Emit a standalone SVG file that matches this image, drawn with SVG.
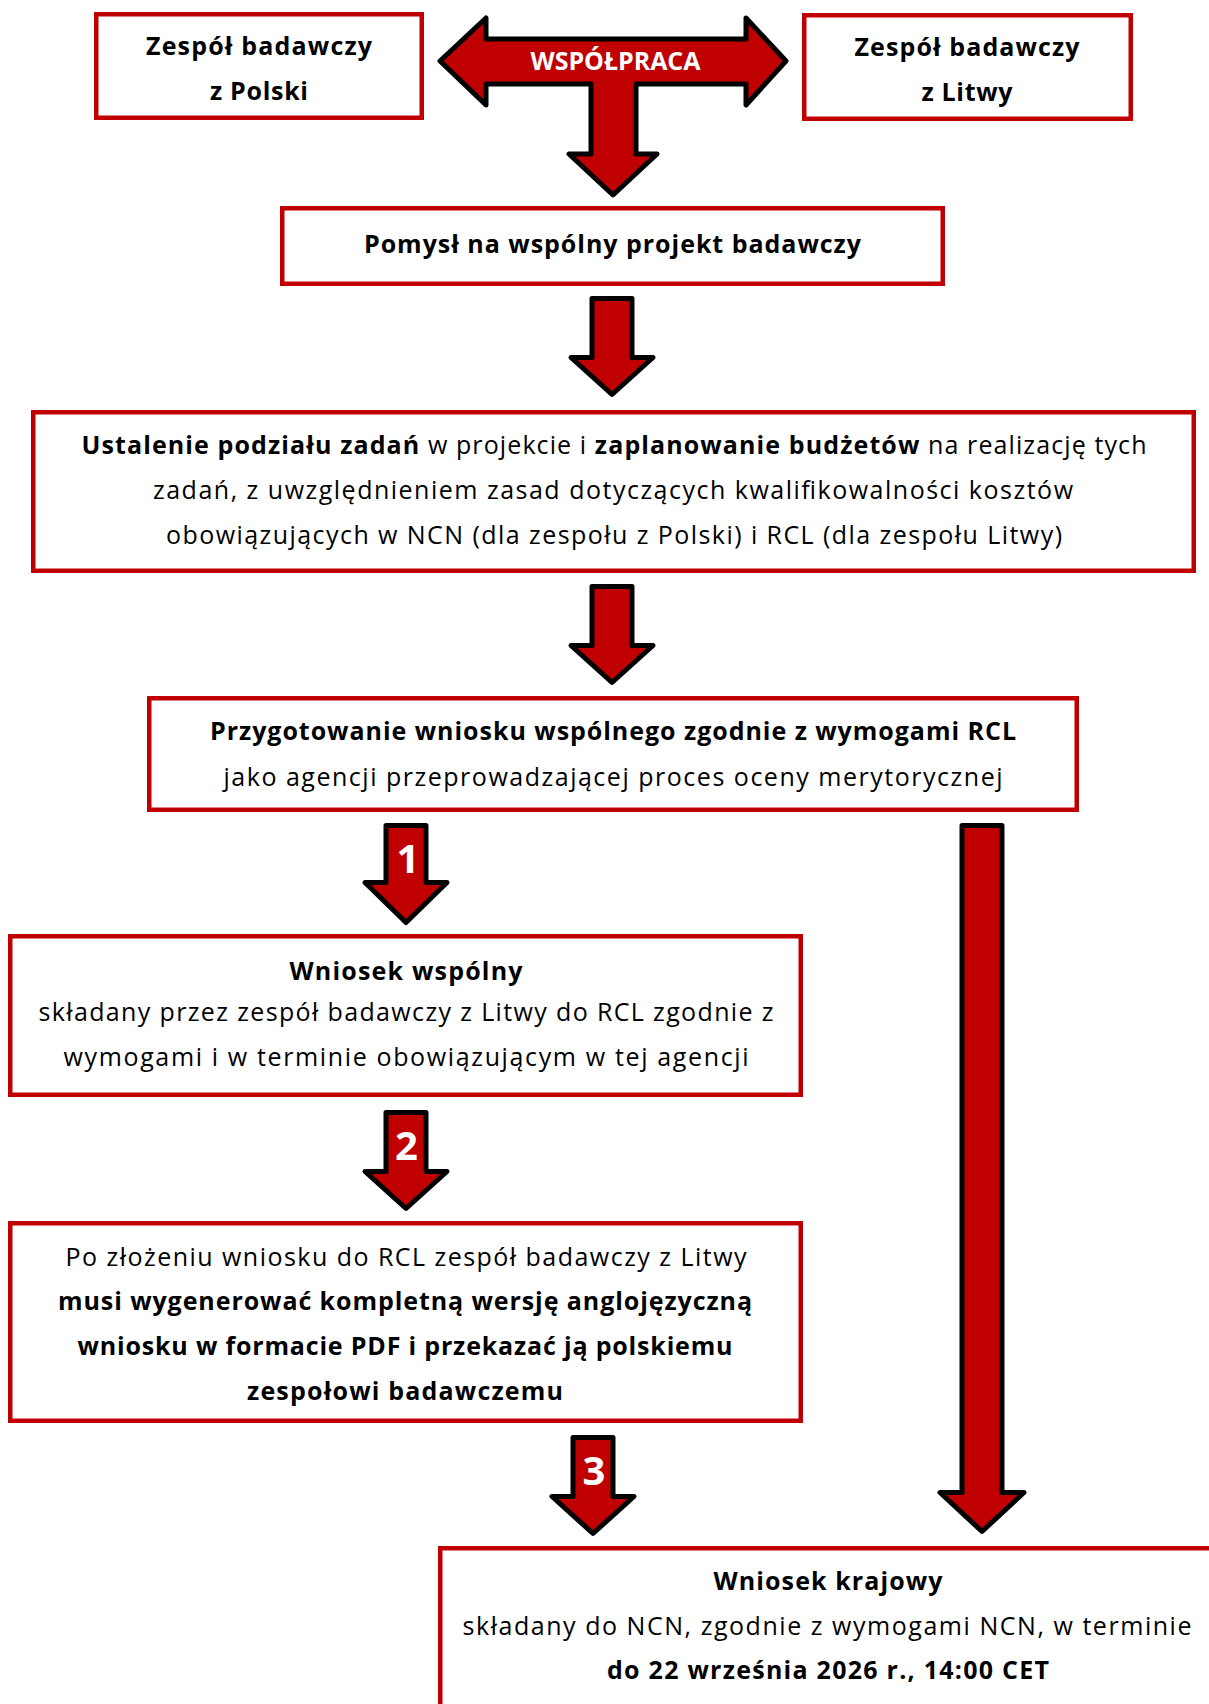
<svg xmlns="http://www.w3.org/2000/svg" width="1209" height="1704" viewBox="0 0 1209 1704">
<defs>
<style>
.box{fill:#FFFFFF;stroke:#C00000;stroke-width:4.5}
.arr{fill:#C00000;stroke:#000000;stroke-width:5;stroke-linejoin:round}
text{font-family:"Open Sans","Liberation Sans",sans-serif;font-size:25px;fill:#000000;text-anchor:middle}
.b{font-weight:bold}
.num{font-weight:bold;font-size:40px;fill:#FFFFFF}
.lbl{font-weight:bold;font-size:25px;fill:#FFFFFF}
</style>
</defs>
<rect width="1209" height="1704" fill="#FFFFFF"/>
<g id="connectors">
<g id="wspolpraca">
<path class="arr" d="M440,61 L486,18 V39 H746 V18 L786,61 L746,105 V84 H636 V154 H657 L613,195 L569,154 H591 V84 H486 V105 Z"/>
<text class="lbl" x="615.5" y="70" textLength="170">WSPÓŁPRACA</text>
</g>
<path id="arrow-pomysl-ustalenie" class="arr" d="M592,298.5 H632 V357.5 H653 L612,394.5 L571,357.5 H592 Z"/>
<path id="arrow-ustalenie-przygotowanie" class="arr" d="M592,586.5 H632 V645.5 H653 L612,682.5 L571,645.5 H592 Z"/>
<g id="arrow-1">
<path class="arr" d="M386,825.5 H426 V882.5 H447 L406,922.5 L365,882.5 H386 Z"/>
<text class="num" x="408" y="873">1</text>
</g>
<g id="arrow-2">
<path class="arr" d="M386,1112.5 H426 V1171.5 H447 L406,1208.5 L365,1171.5 H386 Z"/>
<text class="num" x="406.5" y="1160">2</text>
</g>
<g id="arrow-3">
<path class="arr" d="M573,1437.5 H613 V1496.5 H634 L593,1533.5 L552,1496.5 H573 Z"/>
<text class="num" x="594" y="1485">3</text>
</g>
<path id="arrow-przygotowanie-krajowy" class="arr" d="M962,825.5 H1002 V1492.5 H1024 L982,1531.5 L940,1492.5 H962 Z"/>
</g>
<g id="node-polska">
<rect class="box" x="96.25" y="14.25" width="325.5" height="103.5"/>
<text class="b" x="259" y="55" textLength="226">Zespół badawczy</text>
<text class="b" x="259" y="100" textLength="98">z Polski</text>
</g>
<g id="node-litwa">
<rect class="box" x="804.25" y="15.25" width="326.5" height="103.5"/>
<text class="b" x="967" y="56" textLength="225">Zespół badawczy</text>
<text class="b" x="967" y="101" textLength="91">z Litwy</text>
</g>
<g id="node-pomysl">
<rect class="box" x="282.25" y="208.25" width="660.5" height="75.5"/>
<text class="b" x="612.5" y="253" textLength="497">Pomysł na wspólny projekt badawczy</text>
</g>
<g id="node-ustalenie">
<rect class="box" x="33.25" y="412.25" width="1160.5" height="158.5"/>
<text x="614" y="454" textLength="1065"><tspan class="b">Ustalenie podziału zadań</tspan> w projekcie i <tspan class="b">zaplanowanie budżetów</tspan> na realizację tych</text>
<text x="613" y="499" textLength="920">zadań, z uwzględnieniem zasad dotyczących kwalifikowalności kosztów</text>
<text x="614" y="544" textLength="896">obowiązujących w NCN (dla zespołu z Polski) i RCL (dla zespołu Litwy)</text>
</g>
<g id="node-przygotowanie">
<rect class="box" x="149.25" y="698.25" width="927.5" height="111.5"/>
<text class="b" x="613" y="740" textLength="806">Przygotowanie wniosku wspólnego zgodnie z wymogami RCL</text>
<text x="613" y="786" textLength="779">jako agencji przeprowadzającej proces oceny merytorycznej</text>
</g>
<g id="node-wniosek-wspolny">
<rect class="box" x="10.25" y="936.25" width="790.5" height="158.5"/>
<text class="b" x="406" y="980" textLength="233">Wniosek wspólny</text>
<text x="406" y="1021" textLength="735">składany przez zespół badawczy z Litwy do RCL zgodnie z</text>
<text x="406" y="1066" textLength="685">wymogami i w terminie obowiązującym w tej agencji</text>
</g>
<g id="node-po-zlozeniu">
<rect class="box" x="10.25" y="1223.25" width="790.5" height="197.5"/>
<text x="406" y="1266" textLength="681">Po złożeniu wniosku do RCL zespół badawczy z Litwy</text>
<text class="b" x="405" y="1310" textLength="694">musi wygenerować kompletną wersję anglojęzyczną</text>
<text class="b" x="405" y="1355" textLength="655">wniosku w formacie PDF i przekazać ją polskiemu</text>
<text class="b" x="405" y="1400" textLength="316">zespołowi badawczemu</text>
</g>
<g id="node-wniosek-krajowy">
<rect class="box" x="440.25" y="1548.25" width="800" height="200"/>
<text class="b" x="828" y="1590" textLength="229">Wniosek krajowy</text>
<text x="827" y="1635" textLength="729">składany do NCN, zgodnie z wymogami NCN, w terminie</text>
<text class="b" x="828" y="1679" textLength="442">do 22 września 2026 r., 14:00 CET</text>
</g>
</svg>
